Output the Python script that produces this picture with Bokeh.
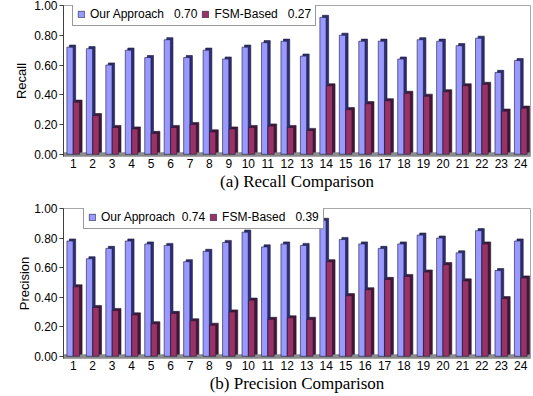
from bokeh.plotting import figure
from bokeh.models import (ColumnDataSource, FixedTicker, NumeralTickFormatter,
                          Legend, LegendItem, Span, Range1d)
from bokeh.layouts import column
from bokeh.transform import dodge
from bokeh.embed import file_html
from bokeh.resources import INLINE

# ---------------- data ----------------
cases = list(range(1, 25))
x_tick_labels = [str(c) for c in cases]
y_ticks = [0.0, 0.2, 0.4, 0.6, 0.8, 1.0]

recall_ours = [0.72, 0.71, 0.60, 0.70, 0.65, 0.77, 0.65, 0.70, 0.64, 0.72, 0.75, 0.76,
               0.66, 0.92, 0.80, 0.76, 0.76, 0.64, 0.77, 0.76, 0.73, 0.78, 0.55, 0.63]
recall_fsm = [0.35, 0.26, 0.18, 0.17, 0.14, 0.18, 0.20, 0.15, 0.17, 0.18, 0.19, 0.18,
              0.16, 0.46, 0.30, 0.34, 0.36, 0.41, 0.39, 0.42, 0.46, 0.47, 0.29, 0.31]
precision_ours = [0.78, 0.66, 0.73, 0.78, 0.76, 0.75, 0.64, 0.71, 0.77, 0.84, 0.74, 0.76,
                  0.75, 0.92, 0.79, 0.76, 0.73, 0.76, 0.82, 0.80, 0.70, 0.85, 0.58, 0.78]
precision_fsm = [0.47, 0.33, 0.31, 0.28, 0.22, 0.29, 0.24, 0.21, 0.30, 0.38, 0.25, 0.26,
                 0.25, 0.64, 0.41, 0.45, 0.52, 0.54, 0.57, 0.62, 0.51, 0.76, 0.39, 0.53]

NB = "\u00a0"
recall_labels = ["Our Approach" + NB * 3 + "0.70", "FSM-Based" + NB * 3 + "0.27"]
precision_labels = ["Our Approach" + NB * 2 + "0.74", "FSM-Based" + NB * 3 + "0.39"]

FONT = "Liberation Sans"
SERIF = "Liberation Serif"
FACE = ["#9999FF", "#993366"]
SIDE = ["#2E2E75", "#4A1530"]
EDGE = "#1A1A3A"

BAR_W = 0.32
DEPTH_X = 0.13
DEPTH_Y = 0.014
LEGEND_H = 20


def make_chart(v_ours, v_fsm, labels, ylabel, caption, height, top, frame_h,
               legend_x, legend_gap, ylabel_standoff):
    bottom = height - top - frame_h
    p = figure(width=533, height=height, output_backend="svg", toolbar_location=None,
               x_range=Range1d(0.5, 24.5), y_range=Range1d(-0.015, 1.0),
               min_border_left=63, min_border_right=3,
               min_border_top=top, min_border_bottom=bottom)
    p.background_fill_color = "white"
    p.border_fill_color = "white"
    p.outline_line_color = "#A8A8A8"
    p.xgrid.visible = False
    p.ygrid.visible = False

    floor = Span(location=0, dimension="width", line_color="#8C8C8C",
                 line_width=4, level="underlay")
    p.add_layout(floor)

    items = []
    for i, (vals, off) in enumerate([(v_ours, -0.165), (v_fsm, 0.165)]):
        src = ColumnDataSource(dict(
            x=cases, top=vals,
            top_back=[v + DEPTH_Y for v in vals],
        ))
        p.vbar(x=dodge("x", off + DEPTH_X, range=p.x_range), top="top_back",
               bottom=DEPTH_Y, width=BAR_W, source=src,
               fill_color=SIDE[i], line_color=EDGE, line_width=0.6)
        r = p.vbar(x=dodge("x", off, range=p.x_range), top="top", bottom=0,
                   width=BAR_W, source=src,
                   fill_color=FACE[i], line_color=EDGE, line_width=0.6)
        items.append(LegendItem(label=labels[i], renderers=[r]))

    legend = Legend(items=items, orientation="horizontal",
                    location=(legend_x, frame_h - legend_gap - LEGEND_H))
    legend.label_text_font = FONT
    legend.label_text_font_size = "12px"
    legend.label_text_color = "black"
    legend.glyph_width = 8
    legend.glyph_height = 8
    legend.label_standoff = 5
    legend.spacing = 4
    legend.padding = 4
    legend.margin = 0
    legend.label_height = 12
    legend.border_line_color = "#333333"
    legend.border_line_width = 1
    legend.background_fill_alpha = 1
    p.add_layout(legend, "center")

    # y axis
    ya = p.yaxis[0]
    ya.ticker = FixedTicker(ticks=y_ticks)
    ya.formatter = NumeralTickFormatter(format="0.00")
    ya.axis_label = ylabel
    ya.axis_label_text_font = FONT
    ya.axis_label_text_font_size = "13px"
    ya.axis_label_text_font_style = "normal"
    ya.axis_label_text_color = "black"
    ya.axis_label_standoff = ylabel_standoff
    ya.major_label_text_font = FONT
    ya.major_label_text_font_size = "12px"
    ya.major_label_text_color = "black"
    ya.axis_line_color = "#404040"
    ya.major_tick_line_color = "#404040"
    ya.major_tick_out = 4
    ya.major_tick_in = 0
    ya.minor_tick_line_color = None
    ya.minor_tick_out = 0
    ya.minor_tick_in = 0
    ya.major_label_standoff = 2

    # x axis
    xa = p.xaxis[0]
    xa.ticker = FixedTicker(ticks=cases)
    xa.major_label_overrides = {c: lab for c, lab in zip(cases, x_tick_labels)}
    xa.axis_line_color = None
    xa.major_tick_line_color = None
    xa.major_tick_out = 0
    xa.major_tick_in = 0
    xa.minor_tick_line_color = None
    xa.minor_tick_out = 0
    xa.minor_tick_in = 0
    xa.major_label_text_font = FONT
    xa.major_label_text_font_size = "12px"
    xa.major_label_text_color = "black"
    xa.major_label_standoff = 2
    xa.axis_label = caption
    xa.axis_label_text_font = SERIF
    xa.axis_label_text_font_size = "17px"
    xa.axis_label_text_font_style = "normal"
    xa.axis_label_text_color = "black"
    xa.axis_label_standoff = 1
    return p


p1 = make_chart(recall_ours, recall_fsm, recall_labels, "Recall",
                "(a) Recall Comparison", height=198, top=5, frame_h=151,
                legend_x=9, legend_gap=1, ylabel_standoff=2)
p2 = make_chart(precision_ours, precision_fsm, precision_labels, "Precision",
                "(b) Precision Comparison", height=198, top=10, frame_h=150,
                legend_x=20, legend_gap=1, ylabel_standoff=-1)

layout = column(p1, p2, spacing=0)
open("out.html", "w").write(file_html(layout, INLINE))
